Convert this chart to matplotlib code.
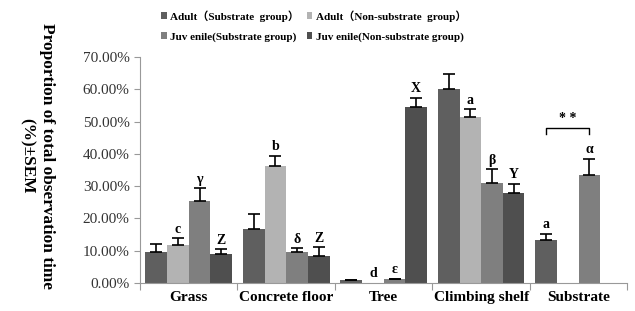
import numpy as np
import matplotlib.pyplot as plt
from matplotlib.ticker import FuncFormatter

# data (fraction of total time)
categories = ["Grass", "Concrete floor", "Tree", "Climbing shelf", "Substrate"]
series = ["Adult\uff08Substrate  group\uff09", "Adult\uff08Non-substrate  group\uff09",
          "Juv enile(Substrate group)", "Juv enile(Non-substrate group)"]
adult_sub = [0.095, 0.168, 0.010, 0.602, 0.134]
adult_non = [0.119, 0.361, 0.0, 0.515, np.nan]
juv_sub = [0.254, 0.095, 0.011, 0.311, 0.335]
juv_non = [0.089, 0.083, 0.545, 0.279, np.nan]
adult_sub_err = [0.025, 0.046, 0.0, 0.044, 0.019]
adult_non_err = [0.020, 0.033, 0.0, 0.023, 0.0]
juv_sub_err = [0.040, 0.012, 0.002, 0.041, 0.049]
juv_non_err = [0.015, 0.027, 0.029, 0.029, 0.0]
adult_sub_lab = ["", "", "", "", "a"]
adult_non_lab = ["c", "b", "d", "a", ""]
juv_sub_lab = ["\u03b3", "\u03b4", "\u03b5", "\u03b2", "\u03b1"]
juv_non_lab = ["Z", "Z", "X", "Y", ""]

colors = ["#5f5f5f", "#b3b3b3", "#7f7f7f", "#4f4f4f"]
serif = ["Liberation Serif", "Noto Sans CJK SC"]

fig = plt.figure(figsize=(6.35, 3.11), dpi=100)
ax = fig.add_axes([0.2205, 0.09, 0.7675, 0.7267])

x = np.arange(len(categories))
w = 0.222
vals = [adult_sub, adult_non, juv_sub, juv_non]
errs = [adult_sub_err, adult_non_err, juv_sub_err, juv_non_err]
labs = [adult_sub_lab, adult_non_lab, juv_sub_lab, juv_non_lab]

for i in range(4):
    pos = x + (i - 1.5) * w
    v = np.array(vals[i], dtype=float)
    e = np.array(errs[i], dtype=float)
    ax.bar(pos, v, w, color=colors[i], label=series[i], zorder=2)
    ok = ~np.isnan(v) & (v > 0.005)
    ax.errorbar(pos[ok], v[ok], yerr=[np.zeros(ok.sum()), e[ok]], fmt="none",
                ecolor="black", elinewidth=1.2, capsize=4, capthick=1.2, zorder=3)
    for p, val, er, t in zip(pos, v, e, labs[i]):
        if t == "" or np.isnan(val):
            continue
        ax.text(p, val + er + 0.008, t, ha="center", va="bottom", fontsize=10,
                fontweight="bold", family=serif)

# significance bracket over Substrate
xa = x[4] - 1.5 * w
xj = x[4] + 0.5 * w
ax.plot([xa, xa, xj, xj], [0.462, 0.48, 0.48, 0.462], color="black", lw=1)
ax.text((xa + xj) / 2, 0.488, "* *", ha="center", va="bottom", fontsize=10,
        fontweight="bold", family=serif)

ax.set_xlim(-0.5, 4.5)
ax.set_ylim(0, 0.70)
ax.set_yticks(np.arange(0, 0.71, 0.10))
ax.yaxis.set_major_formatter(FuncFormatter(lambda v, p: "%.2f%%" % (v * 100)))
ax.set_xticks(np.arange(-0.5, 4.6, 1.0))
ax.set_xticklabels([])
ax.set_xticks(x, minor=True)
ax.set_xticklabels(categories, minor=True, fontsize=11, fontweight="bold", family=serif)
ax.tick_params(axis="x", which="minor", length=0, pad=6)
ax.tick_params(axis="x", which="major", length=5, color="#999999")
ax.tick_params(axis="y", length=4, color="#999999", labelsize=11, labelcolor="#333333")
for t in ax.get_yticklabels():
    t.set_family(serif)

for s in ["top", "right"]:
    ax.spines[s].set_visible(False)
for s in ["left", "bottom"]:
    ax.spines[s].set_color("#999999")

fig.text(0.058, 0.498, "Proportion of total observation time\n(%)\u00b1SEM", fontsize=12.4,
         fontweight="bold", family=serif, rotation=-90, ha="center", va="center",
         multialignment="center", linespacing=1.3)

handles, lbls = ax.get_legend_handles_labels()
order = [0, 2, 1, 3]
fig.legend([handles[k] for k in order], [lbls[k] for k in order], ncol=2,
           loc="upper left", bbox_to_anchor=(0.238, 1.0), frameon=False,
           prop={"family": serif, "weight": "bold", "size": 8},
           handlelength=0.5, handleheight=0.5, handletextpad=0.3,
           columnspacing=0.7, labelspacing=0.95)

fig.savefig("out.png", dpi=100)
